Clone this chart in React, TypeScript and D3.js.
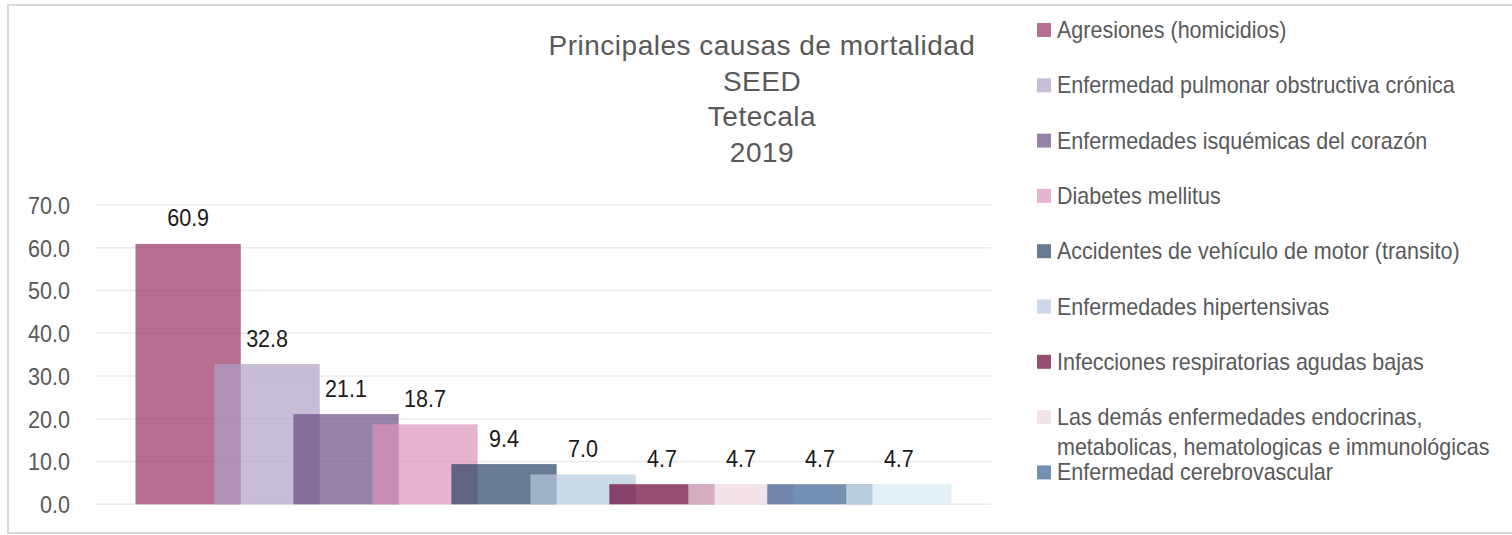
import React, { useEffect, useRef } from "react";
import * as d3 from "d3";

const causes = [
  "Agresiones (homicidios)",
  "Enfermedad pulmonar obstructiva crónica",
  "Enfermedades isquémicas del corazón",
  "Diabetes mellitus",
  "Accidentes de vehículo de motor (transito)",
  "Enfermedades hipertensivas",
  "Infecciones respiratorias agudas bajas",
  "Las demás enfermedades endocrinas, metabolicas, hematologicas e immunológicas",
  "Enfermedad cerebrovascular",
  "Otra causa",
];
const rates = [60.9, 32.8, 21.1, 18.7, 9.4, 7.0, 4.7, 4.7, 4.7, 4.7];
const colors = [
  "rgb(151,48,98)",
  "rgb(175,161,198)",
  "rgb(104,79,131)",
  "rgb(221,148,186)",
  "rgb(38,65,98)",
  "rgb(182,201,222)",
  "rgb(104,2,51)",
  "rgb(239,214,226)",
  "rgb(56,96,146)",
  "rgb(215,234,241)",
];
const yTicks = [0, 10, 20, 30, 40, 50, 60, 70];
const titleLines = ["Principales causas de mortalidad", "SEED", "Tetecala", "2019"];

const FONT = "'Liberation Sans', Arial, Helvetica, sans-serif";

export default function App() {
  const ref = useRef<SVGSVGElement>(null);

  useEffect(() => {
    const svg = d3.select(ref.current);
    svg.selectAll("*").remove();

    const W = 1512;
    const plotLeft = 96;
    const plotRight = 991;
    const y = d3.scaleLinear().domain([0, 70]).range([504.3, 205]);

    // chart border
    svg
      .append("rect")
      .attr("x", 8)
      .attr("y", 5)
      .attr("width", W + 10)
      .attr("height", 528)
      .attr("fill", "#fff")
      .attr("stroke", "#d9d9d9")
      .attr("stroke-width", 2);

    // gridlines
    svg
      .append("g")
      .selectAll("line")
      .data(yTicks)
      .join("line")
      .attr("x1", plotLeft)
      .attr("x2", plotRight)
      .attr("y1", (d) => y(d))
      .attr("y2", (d) => y(d))
      .attr("stroke", "#ececec")
      .attr("stroke-width", 1.5);

    // y tick labels
    svg
      .append("g")
      .selectAll("text")
      .data(yTicks)
      .join("text")
      .attr("transform", (d) => `translate(70,${y(d)}) scale(0.88,1)`)
      .attr("dy", "0.36em")
      .attr("text-anchor", "end")
      .attr("font-family", FONT)
      .attr("font-size", 24.5)
      .attr("fill", "#595959")
      .text((d) => d3.format(".1f")(d));

    // bars: clustered with 25% overlap, 75% gap width
    const n = rates.length;
    const overlap = 0.25;
    const gap = 0.75;
    const barW = (plotRight - plotLeft) / (1 + (n - 1) * (1 - overlap) + gap);
    const step = barW * (1 - overlap);
    const x0 = plotLeft + (gap * barW) / 2;
    const x = d3
      .scaleLinear()
      .domain([0, n - 1])
      .range([x0, x0 + (n - 1) * step]);

    const data = rates.map((v, i) => ({ v, i, c: colors[i], name: causes[i] }));

    svg
      .append("g")
      .selectAll("rect")
      .data(data)
      .join("rect")
      .attr("x", (d) => x(d.i))
      .attr("y", (d) => y(d.v))
      .attr("width", barW)
      .attr("height", (d) => y(0) - y(d.v))
      .attr("fill", (d) => d.c)
      .attr("fill-opacity", 0.7);

    svg
      .append("g")
      .selectAll("text")
      .data(data)
      .join("text")
      .attr(
        "transform",
        (d) => `translate(${x(d.i) + barW / 2},${y(d.v) - 17.5}) scale(0.88,1)`
      )
      .attr("text-anchor", "middle")
      .attr("font-family", FONT)
      .attr("font-size", 24.5)
      .attr("fill", "#1a1a1a")
      .text((d) => d3.format(".1f")(d.v));

    // title
    svg
      .append("g")
      .selectAll("text")
      .data(titleLines)
      .join("text")
      .attr("x", 762)
      .attr("y", (_d, i) => 55 + 35.7 * i)
      .attr("text-anchor", "middle")
      .attr("font-family", FONT)
      .attr("font-size", 28)
      .attr("letter-spacing", 0.5)
      .attr("fill", "#595959")
      .text((d) => d);

    // legend
    const legY = (i: number) => 30 + 55.3 * i;
    const legendData = data.filter((d) => legY(d.i) + 10 < 500);
    const leg = svg
      .append("g")
      .selectAll("g")
      .data(legendData)
      .join("g")
      .attr("transform", (d) => `translate(1037,${legY(d.i)})`);

    leg
      .append("rect")
      .attr("x", 0)
      .attr("y", -7)
      .attr("width", 14)
      .attr("height", 14)
      .attr("fill", (d) => d.c)
      .attr("fill-opacity", 0.7);

    const sx = 0.935;
    const maxW = 450 / sx;
    leg.each(function (d) {
      const g = d3.select(this);
      const t = g
        .append("text")
        .attr("transform", `translate(20,8) scale(${sx},1)`)
        .attr("font-family", FONT)
        .attr("font-size", 23)
        .attr("fill", "#595959");
      const words = d.name.split(" ");
      let line: string[] = [];
      let tspan = t.append("tspan").attr("x", 0).attr("dy", 0);
      for (const w of words) {
        line.push(w);
        tspan.text(line.join(" "));
        const node = tspan.node() as SVGTextContentElement;
        if (node.getComputedTextLength() > maxW && line.length > 1) {
          line.pop();
          tspan.text(line.join(" "));
          line = [w];
          tspan = t.append("tspan").attr("x", 0).attr("dy", 30).text(w);
        }
      }
    });
  }, []);

  return (
    <svg
      ref={ref}
      width={1512}
      height={535}
      style={{ position: "absolute", left: 0, top: 0, background: "#fff" }}
    />
  );
}
